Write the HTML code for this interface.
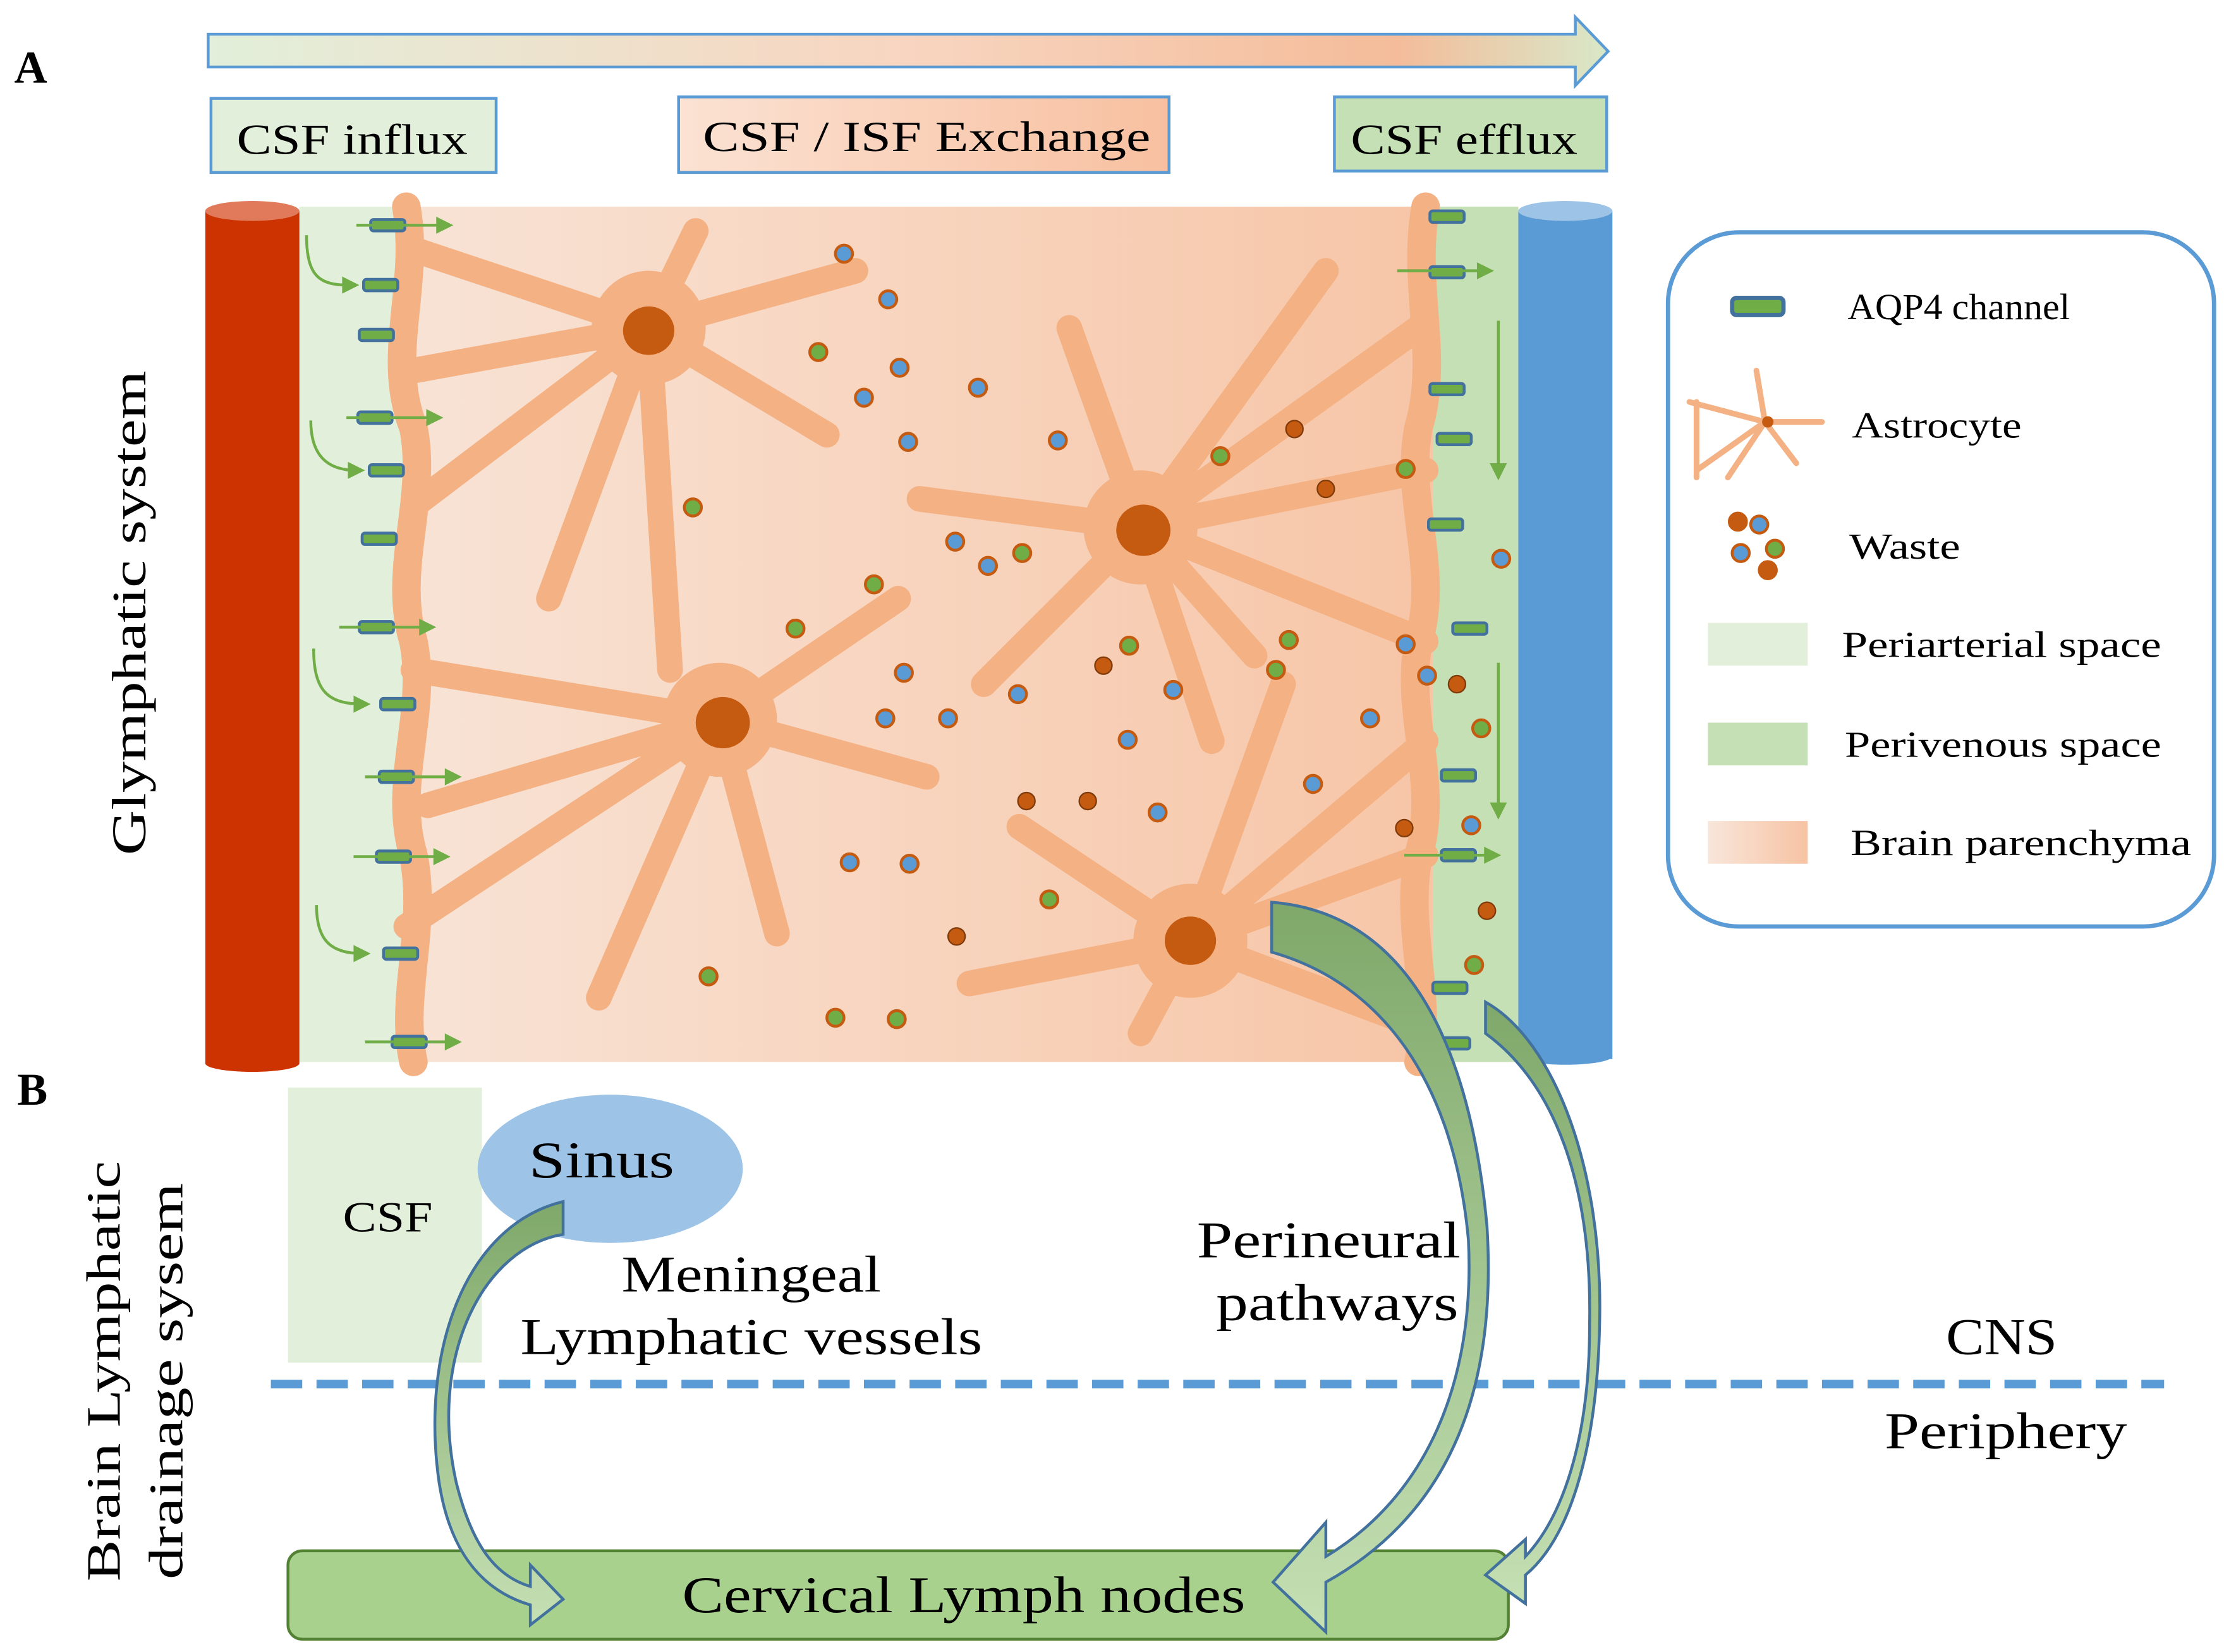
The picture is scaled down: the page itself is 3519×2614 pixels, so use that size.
<!DOCTYPE html>
<html><head><meta charset="utf-8"><style>html,body{margin:0;padding:0;background:#fff}svg{display:block}text{font-family:"Liberation Serif",serif}</style></head>
<body>
<svg width="3519" height="2614" viewBox="0 0 1560 1159" preserveAspectRatio="none" xmlns="http://www.w3.org/2000/svg">
<defs>
<linearGradient id="topg" x1="0" x2="1"><stop offset="0" stop-color="#e2efda"/><stop offset="0.5" stop-color="#f8d5c0"/><stop offset="0.85" stop-color="#f4bc9a"/><stop offset="1" stop-color="#d8e8c8"/></linearGradient>
<linearGradient id="par" x1="0" x2="1"><stop offset="0" stop-color="#f8e6da"/><stop offset="1" stop-color="#f7c3a3"/></linearGradient>
<linearGradient id="exg" x1="0" x2="1"><stop offset="0" stop-color="#fbe2d3"/><stop offset="1" stop-color="#f8c0a0"/></linearGradient>
<linearGradient id="arrg" x1="0" x2="0" y1="0" y2="1"><stop offset="0" stop-color="#7fa86a"/><stop offset="1" stop-color="#c5e0b4"/></linearGradient>
<g id="aqp"><rect x="-12" y="-4" width="24" height="8" rx="2" fill="#70ad47" stroke="#41719c" stroke-width="2"/></g>
</defs>
<path d="M146,24 H1105 V12 L1128,36 L1105,60 V47 H146 Z" fill="url(#topg)" stroke="#5b9bd5" stroke-width="2"/>
<text x="10" y="58" font-size="32" font-weight="bold" font-family="Liberation Sans">A</text>
<rect x="148" y="69" width="200" height="52" fill="#e2efda" stroke="#5b9bd5" stroke-width="2"/>
<text x="247" y="108" font-size="30" text-anchor="middle" textLength="162" lengthAdjust="spacingAndGlyphs">CSF influx</text>
<rect x="476" y="68" width="344" height="53" fill="url(#exg)" stroke="#5b9bd5" stroke-width="2"/>
<text x="650" y="106" font-size="30" text-anchor="middle" textLength="314" lengthAdjust="spacingAndGlyphs">CSF / ISF Exchange</text>
<rect x="936" y="68" width="191" height="52" fill="#c5e0b4" stroke="#5b9bd5" stroke-width="2"/>
<text x="1027" y="108" font-size="30" text-anchor="middle" textLength="159" lengthAdjust="spacingAndGlyphs">CSF efflux</text>
<rect x="210" y="145" width="855" height="600" fill="url(#par)"/>
<rect x="210" y="145" width="75" height="600" fill="#e2efda"/>
<rect x="1005" y="145" width="60" height="600" fill="#c5e0b4"/>
<g stroke="#f4b183" stroke-linecap="round" fill="none">
<path d="M285,145 C295,200 270,250 290,300 C300,350 275,400 290,450 C300,500 275,550 290,600 C300,650 280,700 290,745" stroke-width="20"/>
<path d="M1000,145 C990,200 1010,250 995,300 C985,350 1010,400 995,450 C985,500 1010,550 995,600 C985,650 1005,700 995,745" stroke-width="20"/>
<g stroke-width="18">
<path d="M455,230 L290,175"/><path d="M455,230 L290,260"/><path d="M455,230 L290,355"/><path d="M455,230 L385,420"/><path d="M455,230 L488,162"/><path d="M455,230 L600,190"/><path d="M455,230 L580,305"/><path d="M455,230 L470,470"/>
<path d="M505,505 L290,470"/><path d="M505,505 L300,565"/><path d="M505,505 L285,650"/><path d="M505,505 L420,700"/><path d="M505,505 L630,420"/><path d="M505,505 L650,545"/><path d="M505,505 L545,655"/>
<path d="M800,370 L750,230"/><path d="M800,370 L930,190"/><path d="M800,370 L995,230"/><path d="M800,370 L1000,330"/><path d="M800,370 L645,350"/><path d="M800,370 L690,480"/><path d="M800,370 L880,460"/><path d="M800,370 L1000,450"/><path d="M800,370 L850,520"/>
<path d="M835,660 L680,690"/><path d="M835,660 L715,580"/><path d="M835,660 L900,480"/><path d="M835,660 L1000,520"/><path d="M835,660 L1000,600"/><path d="M835,660 L995,720"/><path d="M835,660 L800,725"/>
</g>
<g stroke-width="44"><circle cx="455" cy="230" r="18"/><circle cx="505" cy="505" r="18"/><circle cx="800" cy="370" r="18"/><circle cx="835" cy="660" r="18"/></g>
</g>
<g fill="#c55a11"><ellipse cx="455" cy="232" rx="18" ry="17"/><ellipse cx="507" cy="507" rx="19" ry="18"/><ellipse cx="802" cy="372" rx="19" ry="18"/><ellipse cx="835" cy="660" rx="18" ry="17"/></g>
<rect x="144" y="148" width="66" height="598" fill="#cc3300"/>
<ellipse cx="177" cy="148" rx="33" ry="7" fill="#e07a5a"/>
<ellipse cx="177" cy="746" rx="33" ry="6" fill="#cc3300"/>
<rect x="1065" y="148" width="66" height="595" fill="#5b9bd5"/>
<ellipse cx="1098" cy="148" rx="33" ry="7" fill="#9dc3e6"/>
<ellipse cx="1098" cy="741" rx="33" ry="6" fill="#5b9bd5"/>
<g>
<use href="#aqp" x="272" y="158"/><use href="#aqp" x="267" y="200"/><use href="#aqp" x="264" y="235"/><use href="#aqp" x="263" y="293"/><use href="#aqp" x="271" y="330"/><use href="#aqp" x="266" y="378"/><use href="#aqp" x="264" y="440"/><use href="#aqp" x="279" y="494"/><use href="#aqp" x="278" y="545"/><use href="#aqp" x="276" y="601"/><use href="#aqp" x="281" y="669"/><use href="#aqp" x="287" y="731"/>
<use href="#aqp" x="1015" y="152"/><use href="#aqp" x="1015" y="191"/><use href="#aqp" x="1015" y="273"/><use href="#aqp" x="1020" y="308"/><use href="#aqp" x="1014" y="368"/><use href="#aqp" x="1031" y="441"/><use href="#aqp" x="1023" y="544"/><use href="#aqp" x="1023" y="600"/><use href="#aqp" x="1017" y="693"/><use href="#aqp" x="1019" y="732"/>
</g>
<g stroke="#70ad47" stroke-width="2" fill="none">
<path d="M250,158 H310"/><path d="M243,293 H303"/><path d="M238,440 H298"/><path d="M256,545 H316"/><path d="M248,601 H308"/><path d="M256,731 H316"/>
<path d="M215,165 C215,195 225,200 245,200"/><path d="M218,295 C218,320 230,330 250,330"/><path d="M220,455 C220,485 230,494 255,494"/><path d="M222,635 C222,660 232,669 255,669"/>
<path d="M980,190 H1040"/><path d="M985,600 H1045"/><path d="M1051,225 V330"/><path d="M1051,465 V568"/>
</g>
<g fill="#70ad47">
<path d="M318,158 l-12,-6 v12z"/><path d="M311,293 l-12,-6 v12z"/><path d="M306,440 l-12,-6 v12z"/><path d="M324,545 l-12,-6 v12z"/><path d="M316,601 l-12,-6 v12z"/><path d="M324,731 l-12,-6 v12z"/>
<path d="M252,200 l-12,-6 v12z"/><path d="M256,330 l-12,-6 v12z"/><path d="M260,494 l-12,-6 v12z"/><path d="M260,669 l-12,-6 v12z"/>
<path d="M1048,190 l-12,-6 v12z"/><path d="M1053,600 l-12,-6 v12z"/><path d="M1051,337 l-6,-12 h12z"/><path d="M1051,575 l-6,-12 h12z"/>
</g>
<g stroke="#c55a11" stroke-width="2">
<g fill="#5b9bd5">
<circle cx="592" cy="178" r="6"/><circle cx="623" cy="210" r="6"/><circle cx="631" cy="258" r="6"/><circle cx="606" cy="279" r="6"/><circle cx="686" cy="272" r="6"/><circle cx="637" cy="310" r="6"/><circle cx="742" cy="309" r="6"/><circle cx="670" cy="380" r="6"/><circle cx="693" cy="397" r="6"/><circle cx="634" cy="472" r="6"/><circle cx="621" cy="504" r="6"/><circle cx="665" cy="504" r="6"/><circle cx="714" cy="487" r="6"/><circle cx="823" cy="484" r="6"/><circle cx="791" cy="519" r="6"/><circle cx="812" cy="570" r="6"/><circle cx="921" cy="550" r="6"/><circle cx="961" cy="504" r="6"/><circle cx="986" cy="452" r="6"/><circle cx="1001" cy="474" r="6"/><circle cx="596" cy="605" r="6"/><circle cx="638" cy="606" r="6"/><circle cx="1053" cy="392" r="6"/><circle cx="1032" cy="579" r="6"/>
</g>
<g fill="#70ad47">
<circle cx="574" cy="247" r="6"/><circle cx="486" cy="356" r="6"/><circle cx="613" cy="410" r="6"/><circle cx="558" cy="441" r="6"/><circle cx="717" cy="388" r="6"/><circle cx="856" cy="320" r="6"/><circle cx="986" cy="329" r="6"/><circle cx="792" cy="453" r="6"/><circle cx="904" cy="449" r="6"/><circle cx="895" cy="470" r="6"/><circle cx="1039" cy="511" r="6"/><circle cx="736" cy="631" r="6"/><circle cx="497" cy="685" r="6"/><circle cx="586" cy="714" r="6"/><circle cx="629" cy="715" r="6"/><circle cx="1034" cy="677" r="6"/>
</g>
<g fill="#c55a11" stroke="#7f3a0a" stroke-width="1">
<circle cx="908" cy="301" r="6"/><circle cx="930" cy="343" r="6"/><circle cx="774" cy="467" r="6"/><circle cx="720" cy="562" r="6"/><circle cx="763" cy="562" r="6"/><circle cx="671" cy="657" r="6"/><circle cx="1022" cy="480" r="6"/><circle cx="985" cy="581" r="6"/><circle cx="1043" cy="639" r="6"/>
</g>
</g>
<text transform="translate(102,430) rotate(-90)" font-size="34" text-anchor="middle" textLength="340" lengthAdjust="spacingAndGlyphs">Glymphatic system</text>
<rect x="1170" y="163" width="383" height="487" rx="50" fill="#fff" stroke="#5b9bd5" stroke-width="3"/>
<rect x="1215" y="209" width="36" height="12" rx="3" fill="#70ad47" stroke="#41719c" stroke-width="3"/>
<text x="1296" y="224" font-size="26" textLength="156" lengthAdjust="spacingAndGlyphs">AQP4 channel</text>
<g stroke="#f4b183" stroke-width="4" stroke-linecap="round" fill="none"><path d="M1238,296 L1185,282"/><path d="M1238,296 L1190,330"/><path d="M1238,296 L1232,260"/><path d="M1238,296 L1278,296"/><path d="M1238,296 L1260,325"/><path d="M1238,296 L1212,335"/><path d="M1190,282 V335"/></g>
<circle cx="1240" cy="296" r="4" fill="#c55a11"/>
<text x="1299" y="307" font-size="26" textLength="119" lengthAdjust="spacingAndGlyphs">Astrocyte</text>
<g stroke="#c55a11" stroke-width="2"><circle cx="1219" cy="366" r="6" fill="#c55a11"/><circle cx="1234" cy="368" r="6" fill="#5b9bd5"/><circle cx="1221" cy="388" r="6" fill="#5b9bd5"/><circle cx="1245" cy="385" r="6" fill="#70ad47"/><circle cx="1240" cy="400" r="6" fill="#c55a11"/></g>
<text x="1297" y="392" font-size="26" textLength="78" lengthAdjust="spacingAndGlyphs">Waste</text>
<rect x="1198" y="437" width="70" height="30" fill="#e2efda"/>
<text x="1292" y="461" font-size="26" textLength="224" lengthAdjust="spacingAndGlyphs">Periarterial space</text>
<rect x="1198" y="507" width="70" height="30" fill="#c5e0b4"/>
<text x="1294" y="531" font-size="26" textLength="222" lengthAdjust="spacingAndGlyphs">Perivenous space</text>
<rect x="1198" y="576" width="70" height="30" fill="url(#par)"/>
<text x="1298" y="600" font-size="26" textLength="239" lengthAdjust="spacingAndGlyphs">Brain parenchyma</text>
<text x="12" y="775" font-size="32" font-weight="bold" font-family="Liberation Sans">B</text>
<text transform="translate(84,962) rotate(-90)" font-size="34" text-anchor="middle" textLength="295" lengthAdjust="spacingAndGlyphs">Brain Lymphatic</text>
<text transform="translate(128,969) rotate(-90)" font-size="34" text-anchor="middle" textLength="278" lengthAdjust="spacingAndGlyphs">drainage sysem</text>
<rect x="202" y="763" width="136" height="193" fill="#e2efda"/>
<text x="272" y="864" font-size="30" text-anchor="middle" textLength="63" lengthAdjust="spacingAndGlyphs">CSF</text>
<ellipse cx="428" cy="820" rx="93" ry="52" fill="#9dc3e6"/>
<text x="422" y="826" font-size="36" text-anchor="middle" textLength="102" lengthAdjust="spacingAndGlyphs">Sinus</text>
<text x="527" y="906" font-size="36" text-anchor="middle" textLength="182" lengthAdjust="spacingAndGlyphs">Meningeal</text>
<text x="527" y="950" font-size="36" text-anchor="middle" textLength="324" lengthAdjust="spacingAndGlyphs">Lymphatic vessels</text>
<text x="932" y="882" font-size="36" text-anchor="middle" textLength="185" lengthAdjust="spacingAndGlyphs">Perineural</text>
<text x="938" y="926" font-size="36" text-anchor="middle" textLength="170" lengthAdjust="spacingAndGlyphs">pathways</text>
<text x="1404" y="950" font-size="36" text-anchor="middle" textLength="78" lengthAdjust="spacingAndGlyphs">CNS</text>
<text x="1407" y="1016" font-size="36" text-anchor="middle" textLength="170" lengthAdjust="spacingAndGlyphs">Periphery</text>
<line x1="190" y1="971" x2="1518" y2="971" stroke="#5b9bd5" stroke-width="6" stroke-dasharray="22 10"/>
<rect x="202" y="1088" width="856" height="62" rx="10" fill="#a9d18e" stroke="#548235" stroke-width="2"/>
<text x="676" y="1131" font-size="36" text-anchor="middle" textLength="395" lengthAdjust="spacingAndGlyphs">Cervical Lymph nodes</text>
<g stroke="#41719c" stroke-width="2" fill="url(#arrg)">
<path d="M395,843 L395,866 C340,875 300,950 320,1040 C330,1080 345,1105 372,1113 L372,1098 L395,1122 L372,1140 L372,1126 C335,1115 315,1085 308,1040 C295,950 325,860 395,843 Z"/>
<path d="M892,633 C980,640 1030,720 1043,860 C1050,970 1020,1060 930,1110 L930,1145 L893,1110 L930,1068 L930,1092 C1000,1050 1035,970 1030,870 C1020,760 970,690 892,668 Z"/>
<path d="M1042,703 C1090,730 1125,820 1122,930 C1120,1020 1100,1080 1070,1105 L1070,1125 L1042,1105 L1070,1080 L1070,1092 C1100,1060 1115,1000 1115,930 C1117,830 1090,760 1042,725 Z"/>
</g>
</svg>
</body></html>
